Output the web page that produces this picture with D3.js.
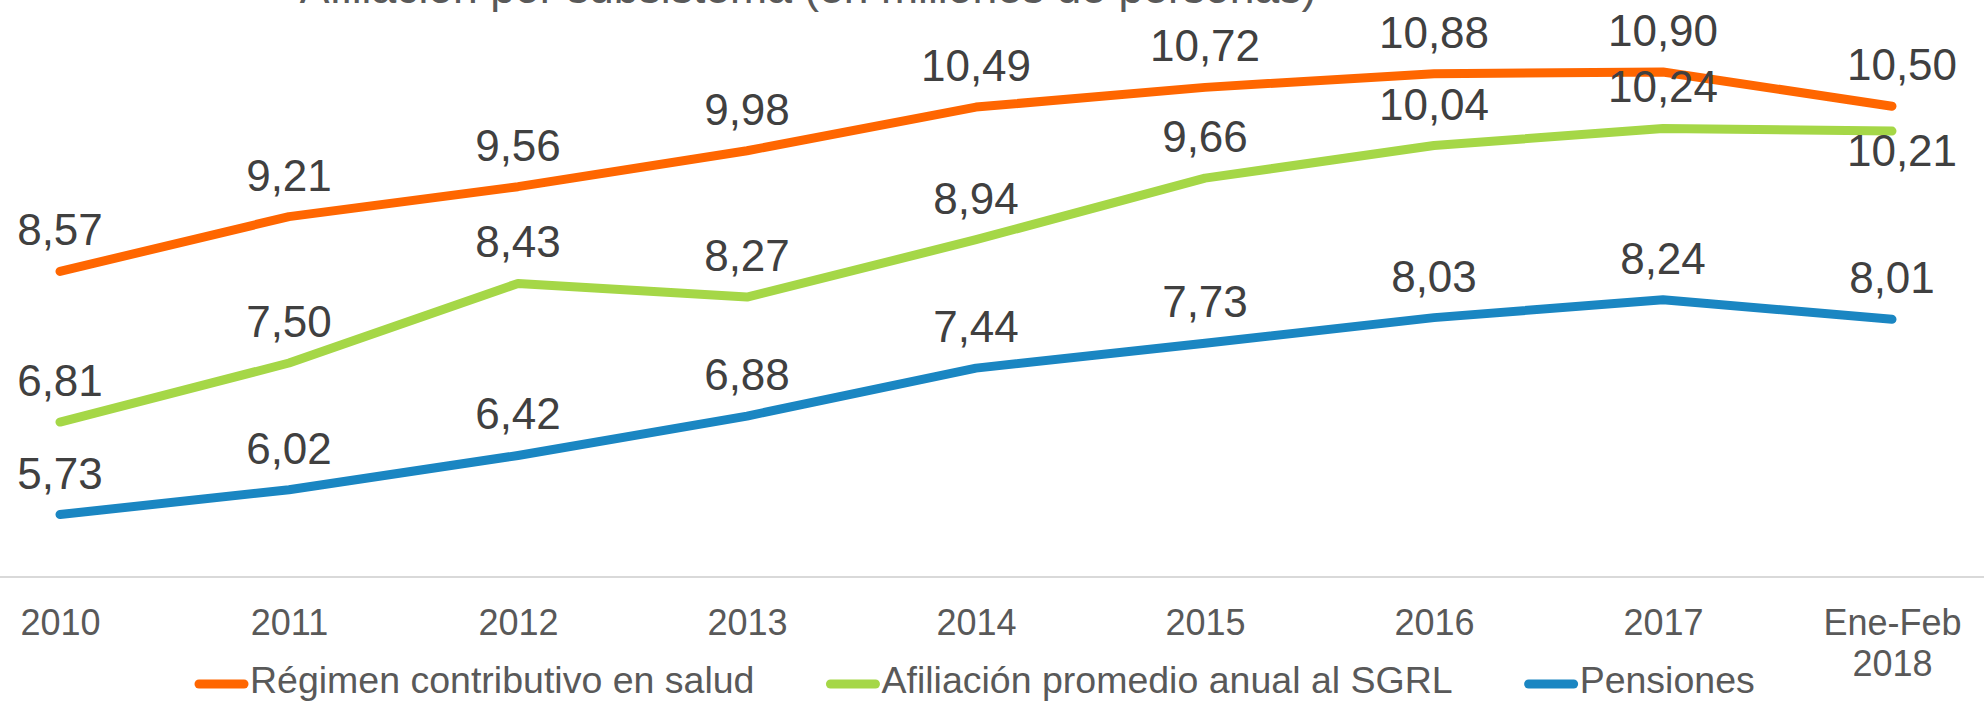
<!DOCTYPE html>
<meta charset="utf-8">
<script src="https://cdn.jsdelivr.net/npm/d3@7"></script>
<style>
body {margin: 0; background: #fff;}
text {font-family: "Liberation Sans", Arial, sans-serif;}
.axis-x text {fill: #595959; font-size: 36px;}
.label {fill: #404040; font-size: 44px;}
.legend text {fill: #595959; font-size: 37.5px;}
</style>

<div id="vis"></div>

<script>

// Data (millions of people)
var categories = ["2010", "2011", "2012", "2013", "2014", "2015", "2016", "2017", "Ene-Feb 2018"];
var contributivo = [8.57, 9.21, 9.56, 9.98, 10.49, 10.72, 10.88, 10.90, 10.50];
var sgrl = [6.81, 7.50, 8.43, 8.27, 8.94, 9.66, 10.04, 10.24, 10.21];
var pensiones = [5.73, 6.02, 6.42, 6.88, 7.44, 7.73, 8.03, 8.24, 8.01];
var seriesNames = ["Régimen contributivo en salud", "Afiliación promedio anual al SGRL", "Pensiones"];
var colors = ["#ff6600", "#a5d747", "#1a86c2"];
var title = "Afiliación por subsistema (en millones de personas)";

var series = [contributivo, sgrl, pensiones].map(function(vals, i) {
  return {name: seriesNames[i], color: colors[i],
          values: vals.map(function(v, j) { return {cat: categories[j], value: v}; })};
});

var w = 1984, h = 703;

var svg = d3.select("#vis")
            .append("svg")
            .attr("width", w)
            .attr("height", h);

// Scales
var x = d3.scalePoint()
    .domain(categories)
    .range([60, 1892]);

var y = d3.scaleLinear()
    .domain([5, 11])
    .range([577, 63.4]);

var fmt = d3.formatLocale({decimal: ",", thousands: ".", grouping: [3], currency: ["$", ""]}).format(".2f");

// Title (partly cut off at the top, as in the original)
svg.append("text")
    .attr("x", 808)
    .attr("y", 3)
    .attr("text-anchor", "middle")
    .style("font-size", "44.5px")
    .style("fill", "#595959")
    .text(title);

// Category axis
var axis = svg.append("g")
    .attr("class", "axis-x")
    .attr("transform", "translate(0," + y(5) + ")")
    .call(d3.axisBottom(x).tickSize(0).tickPadding(0));

axis.select(".domain").remove();
axis.selectAll("text").remove();
axis.selectAll(".tick").append("text")
    .attr("text-anchor", "middle")
    .each(function(d) {
      var parts = d.indexOf("Ene-Feb") === 0 ? d.split(" ") : [d];
      var t = d3.select(this);
      parts.forEach(function(p, i) {
        t.append("tspan").attr("x", 0).attr("y", 58 + i * 41).text(p);
      });
    });

svg.append("line")
    .attr("x1", 0)
    .attr("x2", w)
    .attr("y1", y(5))
    .attr("y2", y(5))
    .attr("stroke", "#d9d9d9")
    .attr("stroke-width", 2);

// Lines
var line = d3.line()
    .x(function(d) { return x(d.cat); })
    .y(function(d) { return y(d.value); });

svg.selectAll(".line")
    .data(series)
  .enter().append("path")
    .attr("class", "line")
    .attr("d", function(d) { return line(d.values); })
    .attr("fill", "none")
    .attr("stroke", function(d) { return d.color; })
    .attr("stroke-width", 9)
    .attr("stroke-linecap", "round")
    .attr("stroke-linejoin", "round");

// Data labels, above the points (the SGRL value of the last period sits below)
series.forEach(function(s, si) {
  svg.selectAll(".label-" + si)
      .data(s.values)
    .enter().append("text")
      .attr("class", "label")
      .attr("text-anchor", "middle")
      .attr("x", function(d, i) { return x(d.cat) + (i === 8 && si < 2 ? 10 : 0); })
      .attr("y", function(d, i) {
        var below = si === 1 && i === 8;
        return y(d.value) + (below ? 35 : -26);
      })
      .text(function(d) { return fmt(d.value); });
});

// Legend
var legend = svg.append("g").attr("class", "legend");
var lx = 199;
series.forEach(function(s) {
  legend.append("line")
      .attr("x1", lx)
      .attr("x2", lx + 45)
      .attr("y1", 684)
      .attr("y2", 684)
      .attr("stroke", s.color)
      .attr("stroke-width", 9)
      .attr("stroke-linecap", "round");
  var t = legend.append("text")
      .attr("x", lx + 51)
      .attr("y", 693)
      .text(s.name);
  lx += 51 + t.node().getComputedTextLength() + 76;
});

</script>
